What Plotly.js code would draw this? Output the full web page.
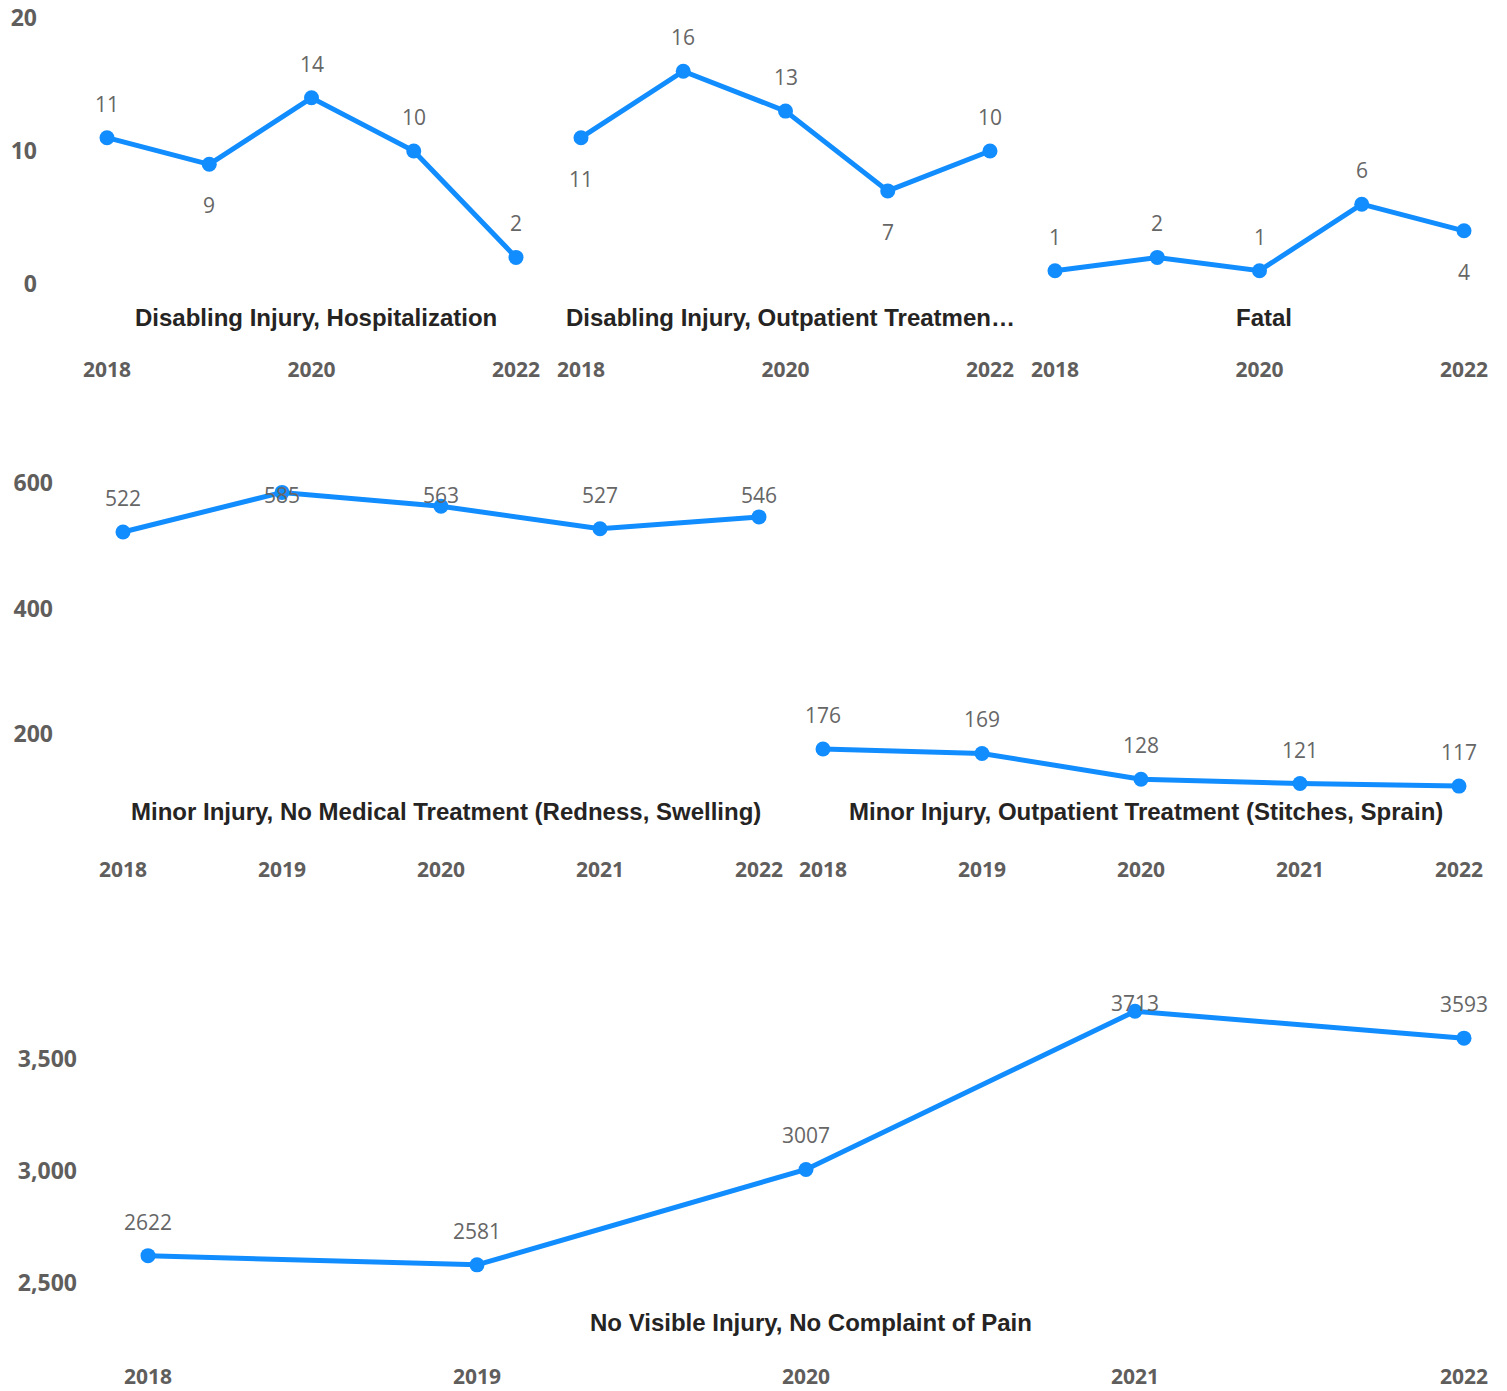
<!DOCTYPE html>
<html>
<head>
<meta charset="utf-8">
<script src="https://cdn.plot.ly/plotly-3.0.1.min.js"></script>
<style>html,body{margin:0;padding:0;background:#fff;}#chart{width:1507px;height:1391px;}</style>
</head>
<body>
<div id="chart"></div>
<script>
// ---------- data ----------
const years = [2018, 2019, 2020, 2021, 2022];

const titles = [
  "Disabling Injury, Hospitalization",
  "Disabling Injury, Outpatient Treatmen\u2026",
  "Fatal",
  "Minor Injury, No Medical Treatment (Redness, Swelling)",
  "Minor Injury, Outpatient Treatment (Stitches, Sprain)",
  "No Visible Injury, No Complaint of Pain"
];

const disablingHospitalization = [11, 9, 14, 10, 2];
const disablingOutpatient      = [11, 16, 13, 7, 10];
const fatal                    = [1, 2, 1, 6, 4];
const minorNoMedical           = [522, 585, 563, 527, 546];
const minorOutpatient          = [176, 169, 128, 121, 117];
const noVisibleInjury          = [2622, 2581, 3007, 3713, 3593];

// which side of the point each data label sits on (t = above, b = below)
const labelSide = [
  ['t','b','t','t','t'],
  ['b','t','t','b','t'],
  ['t','t','t','t','b'],
  ['t','t','t','t','t'],
  ['t','t','t','t','t'],
  ['t','t','t','t','t']
];

const row1Ticks = [0, 10, 20];
const row2Ticks = [200, 400, 600];
const row3Ticks = [2500, 3000, 3500];
const row1Years = [2018, 2020, 2022];

// ---------- layout helpers (pixels) ----------
const W = 1507, H = 1391;
const BLUE = '#118DFF';
const TICK_COLOR = '#605E5C';
const LABEL_COLOR = '#666666';
const TITLE_COLOR = '#252423';

function xdom(l, r) { return [l / W, r / W]; }
function ydom(top, bot) { return [1 - bot / H, 1 - top / H]; }

// row geometry: pixel of value 0, pixels per unit, plot top/bottom, label ceiling, title y
const rows = [
  { zeroPx: 284,    ppu: 13.3,   topPx: 5,   botPx: 355,  ceil: 17,   titleY: 317 },
  { zeroPx: 859.5,  ppu: 0.6275, topPx: 483, botPx: 855,  ceil: 495,  titleY: 812 },
  { zeroPx: 1843,   ppu: 0.224,  topPx: 991, botPx: 1362, ceil: 1003, titleY: 1322 }
];
rows.forEach(r => { r.range = [(r.zeroPx - r.botPx) / r.ppu, (r.zeroPx - r.topPx) / r.ppu]; });

// panels: row index, domain left/right px, px of first year, px per year
const panels = [
  { data: disablingHospitalization, row: 0, L: 38,  R: 545,  p0: 107, ppy: 102.25, yt: row1Ticks, xt: row1Years, showY: true },
  { data: disablingOutpatient,      row: 0, L: 548, R: 1022, p0: 581, ppy: 102.25, yt: row1Ticks, xt: row1Years, showY: false },
  { data: fatal,                    row: 0, L: 1022,R: 1500, p0: 1055,ppy: 102.25, yt: row1Ticks, xt: row1Years, showY: false },
  { data: minorNoMedical,           row: 1, L: 54,  R: 790,  p0: 123, ppy: 159,    yt: row2Ticks, xt: years,     showY: true },
  { data: minorOutpatient,          row: 1, L: 790, R: 1500, p0: 823, ppy: 159,    yt: row2Ticks, xt: years,     showY: false },
  { data: noVisibleInjury,          row: 2, L: 78,  R: 1500, p0: 148, ppy: 329,    yt: row3Ticks, xt: years,     showY: true }
];

const traces = [];
const annotations = [];
const layout = {
  width: W, height: H,
  margin: { l: 0, r: 0, t: 0, b: 0 },
  paper_bgcolor: '#ffffff',
  plot_bgcolor: '#ffffff',
  showlegend: false,
  annotations: annotations
};

panels.forEach((p, i) => {
  const n = i === 0 ? '' : String(i + 1);
  const r = rows[p.row];
  const xr = [years[0] + (p.L - p.p0) / p.ppy, years[0] + (p.R - p.p0) / p.ppy];

  traces.push({
    type: 'scatter', mode: 'lines+markers',
    x: years, y: p.data,
    xaxis: 'x' + n, yaxis: 'y' + n,
    line: { color: BLUE, width: 5 },
    marker: { color: BLUE, size: 15 },
    cliponaxis: false,
    hoverinfo: 'x+y'
  });

  layout['xaxis' + n] = {
    domain: xdom(p.L, p.R), anchor: 'y' + n, range: xr,
    tickmode: 'array', tickvals: p.xt, ticktext: p.xt.map(String),
    showgrid: false, zeroline: false, showline: false, ticks: '',
    tickfont: { family: 'Open Sans', size: 21, color: TICK_COLOR, weight: 'bold' },
    fixedrange: true
  };
  layout['yaxis' + n] = {
    domain: ydom(r.topPx, r.botPx), anchor: 'x' + n, range: r.range,
    tickmode: 'array', tickvals: p.yt, tickformat: ',d',
    showticklabels: p.showY,
    showgrid: false, zeroline: false, showline: false, ticks: '',
    tickfont: { family: 'Open Sans', size: 23, color: TICK_COLOR, weight: 'bold' },
    fixedrange: true
  };

  // data labels
  const ceilVal = (r.zeroPx - r.ceil) / r.ppu;
  p.data.forEach((v, k) => {
    let yv;
    if (labelSide[i][k] === 'b') yv = v - 41 / r.ppu;
    else yv = Math.min(v + 34 / r.ppu, ceilVal);
    annotations.push({
      xref: 'x' + n, yref: 'y' + n, x: years[k], y: yv,
      text: String(v), showarrow: false,
      xanchor: 'center', yanchor: 'middle',
      font: { family: 'Open Sans', size: 21, color: LABEL_COLOR }
    });
  });

  // panel title, centred over the plotted years
  const midYear = (years[0] + years[years.length - 1]) / 2;
  annotations.push({
    xref: 'x' + n, yref: 'paper',
    x: midYear, xshift: 4.5, y: 1 - r.titleY / H,
    text: titles[i], showarrow: false,
    xanchor: 'center', yanchor: 'middle',
    font: { family: 'Liberation Sans', size: 24, color: TITLE_COLOR, weight: 'bold' }
  });
});

Plotly.newPlot('chart', traces, layout, { displayModeBar: false, responsive: false });
</script>
</body>
</html>
